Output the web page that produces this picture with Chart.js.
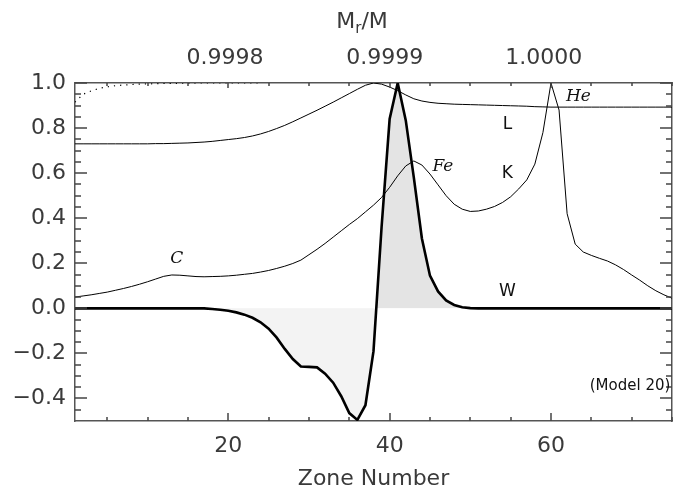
<!DOCTYPE html>
<html lang="en">
<head>
    <meta charset="UTF-8">
    <title>Zone Number - L, K, W</title>
    <script src="https://cdn.jsdelivr.net/npm/chart.js"></script>
    <style>
        body, html {
            margin: 0;
            padding: 0;
            background: #fff;
        }
        #wrap {
            width: 675px;
            height: 490px;
            position: relative;
        }
    </style>
</head>
<body>
    <div id="wrap"><canvas id="chart"></canvas></div>

    <script>
        // zone numbers
        const zones = [];
        for (let z = 1; z <= 75; z++) zones.push(z);

        // L curve (thin)
        const lVals = [
            0.730, 0.730, 0.730, 0.730, 0.730, 0.730, 0.730, 0.730, 0.730, 0.730,
            0.731, 0.731, 0.732, 0.733, 0.734, 0.736, 0.738, 0.741, 0.745, 0.749,
            0.753, 0.758, 0.765, 0.774, 0.785, 0.798, 0.812, 0.828, 0.845, 0.862,
            0.879, 0.897, 0.915, 0.934, 0.953, 0.972, 0.990, 1.000, 0.995, 0.982,
            0.966, 0.947, 0.930, 0.920, 0.914, 0.910, 0.908, 0.906, 0.905, 0.904,
            0.903, 0.902, 0.901, 0.900, 0.899, 0.898, 0.897, 0.895, 0.894, 0.893,
            0.893, 0.893, 0.893, 0.893, 0.893, 0.893, 0.893, 0.893, 0.893, 0.893,
            0.893, 0.893, 0.893, 0.893, 0.893
        ];

        // K curve (thin)
        const kVals = [
            0.050, 0.055, 0.060, 0.066, 0.072, 0.080, 0.088, 0.097, 0.107, 0.118,
            0.130, 0.142, 0.148, 0.147, 0.144, 0.141, 0.140, 0.141, 0.142, 0.144,
            0.147, 0.151, 0.155, 0.161, 0.168, 0.177, 0.187, 0.199, 0.214, 0.238,
            0.262, 0.288, 0.316, 0.344, 0.372, 0.398, 0.428, 0.458, 0.492, 0.537,
            0.588, 0.632, 0.654, 0.636, 0.596, 0.548, 0.500, 0.462, 0.440, 0.430,
            0.432, 0.440, 0.452, 0.470, 0.495, 0.530, 0.570, 0.640, 0.780, 1.000,
            0.880, 0.420, 0.285, 0.250, 0.235, 0.222, 0.210, 0.193, 0.172, 0.148,
            0.125, 0.100, 0.078, 0.060, 0.045
        ];

        // W curve (thick, filled to zero)
        const wVals = [
            0, 0, 0, 0, 0, 0, 0, 0, 0, 0,
            0, 0, 0, 0, 0, 0, 0, -0.003, -0.006, -0.011,
            -0.018, -0.028, -0.042, -0.062, -0.090, -0.130, -0.180, -0.225, -0.258, -0.260,
            -0.262, -0.290, -0.330, -0.390, -0.465, -0.495, -0.430, -0.190, 0.360, 0.840,
            1.000, 0.834, 0.580, 0.310, 0.145, 0.075, 0.035, 0.015, 0.005, 0.001,
            0, 0, 0, 0, 0, 0, 0, 0, 0, 0,
            0, 0, 0, 0, 0, 0, 0, 0, 0, 0,
            0, 0, 0, 0, 0
        ];

        // dotted curve near the top left
        const dotZones = [1, 2, 3, 4, 5, 6, 7, 8, 9, 10, 11, 12, 13, 14, 15, 16, 18, 20, 22, 24];
        const dotVals = [0.915, 0.950, 0.965, 0.976, 0.983, 0.988, 0.991, 0.993, 0.995, 0.996,
                         0.997, 0.998, 0.998, 0.999, 0.999, 1.000, 1.000, 1.000, 1.000, 1.000];

        // axis ticks
        const zoneTicks = [20, 40, 60];
        const massTickZones = [19.6, 39.4, 59.1];
        const massTickLabels = ['0.9998', '0.9999', '1.0000'];
        const yTicks = [-0.4, -0.2, 0.0, 0.2, 0.4, 0.6, 0.8, 1.0];

        // text labels on the curves (zone, value)
        const notes = [
            { text: 'C',  x: 13.6, y: 0.22,  italic: true },
            { text: 'Fe', x: 46.6, y: 0.63,  italic: true },
            { text: 'He', x: 63.4, y: 0.94,  italic: true },
            { text: 'L',  x: 54.6, y: 0.815, italic: false },
            { text: 'K',  x: 54.6, y: 0.60,  italic: false },
            { text: 'W',  x: 54.6, y: 0.075, italic: false },
        ];

        const pts = (xs, ys) => xs.map((x, i) => ({ x: x, y: ys[i] }));

        const tickFont = { family: 'DejaVu Sans', size: 22 };
        const ink = '#3a3a3a';

        // inward tick marks, annotations and the top title
        const extras = {
            id: 'extras',
            afterDraw(chart) {
                const { ctx, chartArea: a } = chart;
                const x = chart.scales.x, y = chart.scales.y;
                ctx.save();
                ctx.setLineDash([]);
                ctx.strokeStyle = '#444';
                ctx.lineWidth = 1.5;
                ctx.lineCap = 'butt';
                ctx.beginPath();
                for (let v = 5; v <= 75; v += 5) {
                    const px = Math.round(x.getPixelForValue(v));
                    const major = v % 20 === 0;
                    ctx.moveTo(px, a.bottom); ctx.lineTo(px, a.bottom - (major ? 8 : 4));
                    ctx.moveTo(px, a.top); ctx.lineTo(px, a.top + (major ? 5 : 3));
                }
                for (let i = -9; i <= 20; i++) {
                    const py = Math.round(y.getPixelForValue(i * 0.05));
                    const len = i % 4 === 0 ? 12 : 6;
                    ctx.moveTo(a.left, py); ctx.lineTo(a.left + len, py);
                    ctx.moveTo(a.right, py); ctx.lineTo(a.right - len, py);
                }
                ctx.stroke();

                // curve labels
                ctx.fillStyle = '#111';
                ctx.textAlign = 'center';
                ctx.textBaseline = 'middle';
                notes.forEach(n => {
                    ctx.font = n.italic ? 'italic 17px "DejaVu Serif"' : '17px "DejaVu Sans"';
                    ctx.fillText(n.text, x.getPixelForValue(n.x), y.getPixelForValue(n.y));
                });
                ctx.font = '15px "DejaVu Sans"';
                ctx.fillText('(Model 20)', x.getPixelForValue(69.8), y.getPixelForValue(-0.345));

                // top title M_r/M
                ctx.fillStyle = ink;
                ctx.textAlign = 'left';
                ctx.textBaseline = 'alphabetic';
                const big = '22px "DejaVu Sans"', small = '15px "DejaVu Sans"';
                ctx.font = big;
                const wM = ctx.measureText('M').width;
                const wRest = ctx.measureText('/M').width;
                ctx.font = small;
                const wr = ctx.measureText('r').width;
                let tx = 362 - (wM + wr + wRest) / 2;
                const base = 28;
                ctx.font = big;
                ctx.fillText('M', tx, base);
                tx += wM;
                ctx.font = small;
                ctx.fillText('r', tx, base + 5);
                tx += wr;
                ctx.font = big;
                ctx.fillText('/M', tx, base);
                ctx.restore();
            }
        };

        new Chart(document.getElementById('chart'), {
            type: 'line',
            data: {
                datasets: [
                    {
                        label: 'L',
                        data: pts(zones, lVals),
                        borderColor: '#000',
                        borderWidth: 1,
                        pointRadius: 0,
                        fill: false
                    },
                    {
                        label: 'K',
                        data: pts(zones, kVals),
                        borderColor: '#000',
                        borderWidth: 1,
                        pointRadius: 0,
                        fill: false
                    },
                    {
                        label: 'dotted',
                        data: pts(dotZones, dotVals),
                        borderColor: '#000',
                        borderWidth: 1.2,
                        borderDash: [1.2, 5],
                        pointRadius: 0,
                        fill: false
                    },
                    {
                        label: 'W',
                        data: pts(zones, wVals),
                        borderColor: '#000',
                        borderWidth: 2.6,
                        pointRadius: 0,
                        fill: { target: { value: 0 }, above: '#e4e4e4', below: '#f3f3f3' }
                    }
                ]
            },
            options: {
                responsive: true,
                maintainAspectRatio: false,
                animation: false,
                layout: { padding: { left: 0, right: 3, top: 0, bottom: 0 } },
                plugins: {
                    legend: { display: false },
                    tooltip: { enabled: false }
                },
                scales: {
                    x: {
                        type: 'linear',
                        position: 'bottom',
                        min: 1,
                        max: 75,
                        afterBuildTicks: s => { s.ticks = zoneTicks.map(v => ({ value: v })); },
                        afterFit: s => { s.height = 69; },
                        grid: { display: false, drawTicks: false },
                        border: { display: true, color: '#555', width: 1.5 },
                        ticks: { color: ink, font: tickFont, padding: 12, maxRotation: 0 },
                        title: {
                            display: true,
                            text: 'Zone Number',
                            color: ink,
                            font: { family: 'DejaVu Sans', size: 22, lineHeight: 1 },
                            padding: { top: 0, bottom: 0 }
                        }
                    },
                    x2: {
                        type: 'linear',
                        position: 'top',
                        min: 1,
                        max: 75,
                        afterBuildTicks: s => { s.ticks = massTickZones.map(v => ({ value: v })); },
                        afterFit: s => { s.height = 83; },
                        grid: { display: false, drawTicks: false },
                        border: { display: true, color: '#555', width: 1.5 },
                        ticks: {
                            color: ink,
                            font: tickFont,
                            padding: 12,
                            maxRotation: 0,
                            callback: (v, i) => massTickLabels[i]
                        }
                    },
                    y: {
                        type: 'linear',
                        position: 'left',
                        min: -0.5,
                        max: 1.0,
                        afterBuildTicks: s => { s.ticks = yTicks.map(v => ({ value: v })); },
                        afterFit: s => { s.width = 75; },
                        grid: { display: false, drawTicks: false },
                        border: { display: true, color: '#555', width: 1.5 },
                        ticks: {
                            color: ink,
                            font: tickFont,
                            padding: 9,
                            callback: v => (v < 0 ? '\u2212' : '') + Math.abs(v).toFixed(1)
                        }
                    },
                    y2: {
                        type: 'linear',
                        position: 'right',
                        min: -0.5,
                        max: 1.0,
                        afterFit: s => { s.width = 0; },
                        grid: { display: false, drawTicks: false },
                        border: { display: true, color: '#555', width: 1.5 },
                        ticks: { display: false }
                    }
                }
            },
            plugins: [extras]
        });
    </script>
</body>
</html>
